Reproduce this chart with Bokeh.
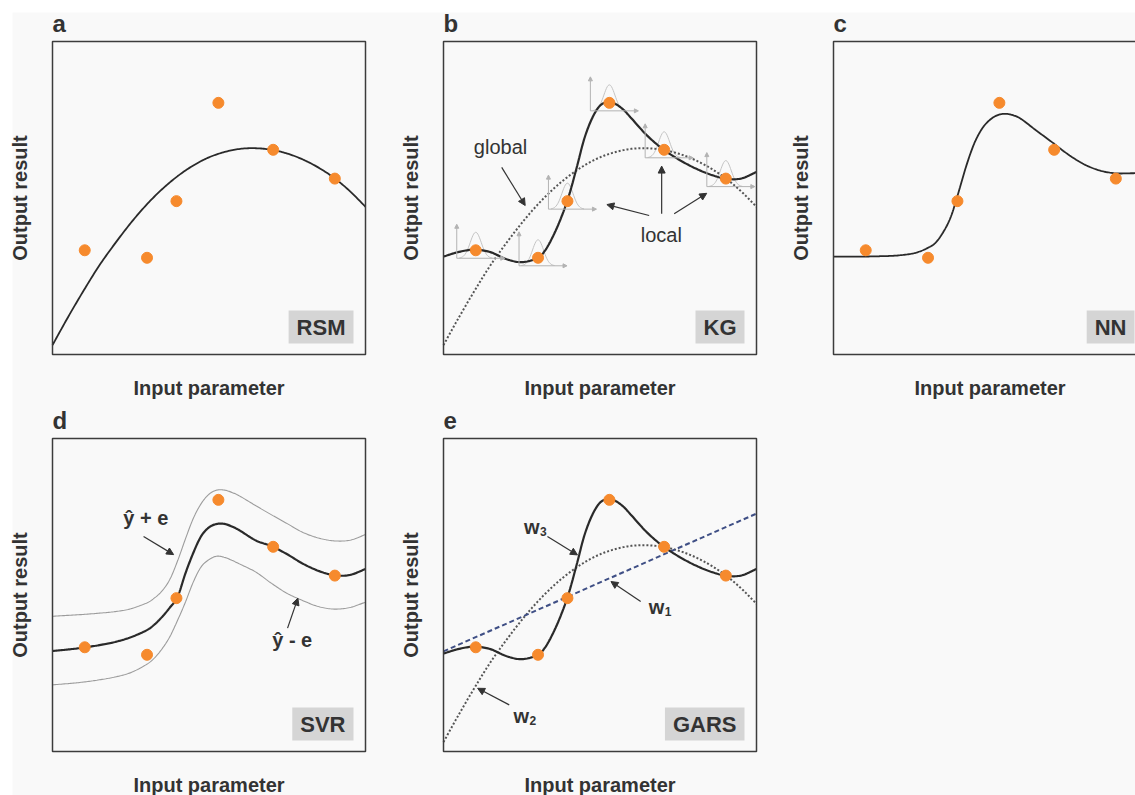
import math
import numpy as np
from bokeh.plotting import figure
from bokeh.models import Range1d, Label, Arrow, NormalHead, BoxAnnotation
from bokeh.embed import file_html
from bokeh.resources import INLINE

# ---------------------------------------------------------------- data
# training samples (input parameter, output result), identical in every panel
sample_x = [1.03, 3.02, 3.96, 5.30, 7.05, 9.02]
sample_y = [3.33, 3.09, 4.90, 8.04, 6.54, 5.62]

# RSM: quadratic response surface (also the global trend of KG / w2 of GARS)
rsm_x = [0, 0.5, 1.0, 1.5, 2.0, 2.5, 3.0, 3.5, 4.0, 4.5, 5.0,
         5.5, 6.0, 6.5, 7.0, 7.5, 8.0, 8.5, 9.0, 9.5, 10.0]
rsm_y = [0.30, 1.20, 2.05, 2.85, 3.55, 4.20, 4.78, 5.28, 5.70, 6.04, 6.30,
         6.47, 6.57, 6.59, 6.54, 6.42, 6.23, 5.97, 5.64, 5.22, 4.72]

# KG: kriging prediction (also w3 of GARS)
kg_x = [0, 0.5, 1.0, 1.5, 2.0, 2.5, 3.0, 3.25, 3.5, 3.75, 4.0, 4.25, 4.5, 4.75,
        5.0, 5.25, 5.5, 5.75, 6.0, 6.5, 7.0, 7.5, 8.0, 8.5, 9.0, 9.5, 10.0]
kg_y = [3.13, 3.28, 3.35, 3.27, 3.05, 2.95, 3.08, 3.33, 3.78, 4.35, 5.05, 5.95, 6.90, 7.55,
        7.95, 8.06, 8.00, 7.82, 7.55, 7.00, 6.57, 6.24, 5.97, 5.76, 5.62, 5.62, 5.83]

# NN: neural network prediction
nn_x = [0, 0.5, 1.0, 1.5, 2.0, 2.5, 2.75, 3.0, 3.25, 3.5, 3.75, 4.0, 4.25, 4.5,
        4.75, 5.0, 5.25, 5.5, 5.75, 6.0, 6.5, 7.0, 7.5, 8.0, 8.5, 9.0, 9.5, 10.0]
nn_y = [3.13, 3.13, 3.13, 3.14, 3.16, 3.22, 3.29, 3.40, 3.56, 3.90, 4.40, 5.20, 6.05, 6.75,
        7.22, 7.50, 7.65, 7.69, 7.64, 7.52, 7.14, 6.77, 6.39, 6.08, 5.88, 5.79, 5.79, 5.80]

# SVR: regression function and its epsilon tube
svr_x = [0, 0.5, 1.0, 1.5, 2.0, 2.5, 3.0, 3.25, 3.5, 3.75, 4.0, 4.25, 4.5, 4.75,
         5.0, 5.25, 5.5, 5.75, 6.0, 6.5, 7.0, 7.5, 8.0, 8.5, 9.0, 9.5, 10.0]
svr_y = [3.21, 3.26, 3.32, 3.40, 3.50, 3.65, 3.87, 4.05, 4.30, 4.60, 4.95, 5.70, 6.35, 6.88,
         7.16, 7.27, 7.27, 7.18, 7.05, 6.74, 6.56, 6.30, 6.00, 5.77, 5.63, 5.64, 5.83]
svr_upper_y = [4.32, 4.35, 4.38, 4.42, 4.47, 4.56, 4.74, 4.90, 5.13, 5.50, 6.10, 6.80, 7.45, 7.92,
               8.22, 8.35, 8.35, 8.27, 8.15, 7.85, 7.56, 7.28, 7.00, 6.82, 6.73, 6.75, 6.93]
svr_lower_y = [2.13, 2.17, 2.22, 2.29, 2.38, 2.52, 2.78, 2.98, 3.28, 3.67, 4.20, 4.78, 5.42, 5.90,
               6.13, 6.24, 6.20, 6.10, 5.98, 5.73, 5.37, 5.05, 4.82, 4.63, 4.55, 4.60, 4.77]

# GARS: linear member w1
linear_x = [0.0, 10.0]
linear_y = [3.20, 7.60]

# ---------------------------------------------------------------- styling
BG = "#f9f9f9"
INK = "#333333"
CURVE = "#2a2a2a"
ORANGE = "#f68a2d"
FONT = "Liberation Sans"
U = 31.3                  # pixels per data unit (313 px box for 0..10)
W, H = 1135, 795          # page size
PAD = 12                  # white strip along the top and left edges

# each panel: (left edge of its box, bottom edge of its box) in canvas pixels
PANELS = {"a": (52, 441), "b": (443, 441), "c": (833, 441),
          "d": (52, 44), "e": (443, 44)}

p = figure(width=W, height=H, x_range=Range1d(0, W), y_range=Range1d(0, H),
           x_axis_type=None, y_axis_type=None, output_backend="svg",
           toolbar_location=None, min_border=0)
p.background_fill_color = "white"
p.border_fill_color = "white"
p.outline_line_color = None
p.add_layout(BoxAnnotation(left=PAD, right=W, bottom=0, top=H - PAD, fill_color=BG,
                           fill_alpha=1, line_color=None, level="underlay"))

xr, yr = {}, {}
for key, (left, bottom) in PANELS.items():
    xr["x" + key] = Range1d(-left / U, (W - left) / U)
    yr["y" + key] = Range1d(-bottom / U, (H - bottom) / U)
p.extra_x_ranges = xr
p.extra_y_ranges = yr


def rn(k):
    return dict(x_range_name="x" + k, y_range_name="y" + k)


def smooth(xs, ys, steps=12):
    """Catmull-Rom path through the knots so the curves render without corners."""
    xs = np.asarray(xs, float)
    ys = np.asarray(ys, float)
    px = np.concatenate([[2 * xs[0] - xs[1]], xs, [2 * xs[-1] - xs[-2]]])
    py = np.concatenate([[2 * ys[0] - ys[1]], ys, [2 * ys[-1] - ys[-2]]])
    t = np.linspace(0.0, 1.0, steps, endpoint=False)
    out_x, out_y = [], []
    for i in range(1, len(px) - 2):
        for arr, out in ((px, out_x), (py, out_y)):
            p0, p1, p2, p3 = arr[i - 1], arr[i], arr[i + 1], arr[i + 2]
            seg = 0.5 * (2 * p1 + (-p0 + p2) * t
                         + (2 * p0 - 5 * p1 + 4 * p2 - p3) * t ** 2
                         + (-p0 + 3 * p1 - 3 * p2 + p3) * t ** 3)
            out.extend(seg.tolist())
    out_x.append(float(xs[-1]))
    out_y.append(float(ys[-1]))
    return out_x, out_y


def note(k, x, y, text, bold=False, size=20, dx=0, dy=0):
    # anchored on the text baseline
    p.add_layout(Label(x=x, y=y, x_offset=dx, y_offset=dy + 0.37 * size, text=text,
                       text_font=FONT, text_font_style="bold" if bold else "normal",
                       text_font_size=f"{size}px", text_color=INK,
                       text_baseline="alphabetic", **rn(k)))


def frame(k, letter, tag):
    p.add_layout(BoxAnnotation(left=0, right=10, bottom=0, top=10, fill_alpha=0,
                               line_color="#3c3c3c", line_alpha=1, line_width=1.5,
                               level="overlay", **rn(k)))
    note(k, 0, 10, letter, bold=True, size=24, dx=0, dy=9)
    p.add_layout(Label(x=5, y=0, y_offset=-33, text="Input parameter",
                       text_font=FONT, text_font_style="bold", text_font_size="20px",
                       text_color=INK, text_align="center", text_baseline="middle", **rn(k)))
    p.add_layout(Label(x=0, y=5, x_offset=-33, angle=math.pi / 2, text="Output result",
                       text_font=FONT, text_font_style="bold", text_font_size="20px",
                       text_color=INK, text_align="center", text_baseline="middle", **rn(k)))
    p.add_layout(Label(x=10, y=0, x_offset=-12, y_offset=11, text=tag,
                       text_font=FONT, text_font_style="bold", text_font_size="22px",
                       text_color=INK, text_align="right", text_baseline="bottom",
                       background_fill_color="#d5d5d5",
                       padding=dict(left=8, right=8, top=4, bottom=4), **rn(k)))


def pointer(k, x0, y0, x1, y1, color=INK, width=1.2, size=7):
    p.add_layout(Arrow(end=NormalHead(size=size, fill_color=color, line_color=color),
                       x_start=x0, y_start=y0, x_end=x1, y_end=y1,
                       line_color=color, line_width=width, **rn(k)))


def samples(k):
    p.scatter(sample_x, sample_y, size=11, color=ORANGE, **rn(k))


def dotted(k, xs, ys):
    sx, sy = smooth(xs, ys)
    p.line(sx, sy, line_color="#555555", line_width=2, line_dash="2 2", **rn(k))


def solid(k, xs, ys, width=2.2, color=CURVE):
    sx, sy = smooth(xs, ys)
    p.line(sx, sy, line_color=color, line_width=width, **rn(k))


# ---------------------------------------------------------------- a: RSM
solid("a", rsm_x, rsm_y, width=1.8)
samples("a")
frame("a", "a", "RSM")

# ---------------------------------------------------------------- b: KG
# small Gaussian kernels sitting on each sample
ax_dx = -19 / U
ax_low = -8 / U
ax_top = 26 / U
ax_right = 29 / U
bell_h = 26 / U
bell_s = 5.5 / U
for sx0, sy0 in zip(sample_x, sample_y):
    pointer("b", sx0 + ax_dx, sy0 + ax_low, sx0 + ax_dx, sy0 + ax_top, color="#b3b3b3", width=1, size=4)
    pointer("b", sx0 + ax_dx, sy0 + ax_low, sx0 + ax_right, sy0 + ax_low, color="#b3b3b3", width=1, size=4)
    bx = np.linspace(sx0 - 3.0 * bell_s, sx0 + 3.0 * bell_s, 40)
    by = sy0 + ax_low + bell_h * np.exp(-0.5 * ((bx - sx0) / bell_s) ** 2)
    p.line(bx, by, line_color="#c4c4c4", line_width=1, **rn("b"))
dotted("b", rsm_x, rsm_y)
solid("b", kg_x, kg_y)
samples("b")
note("b", 0.97, 6.39, "global")
pointer("b", 1.86, 5.98, 2.61, 4.76)
note("b", 6.30, 3.59, "local")
pointer("b", 6.57, 4.44, 5.22, 4.79)
pointer("b", 6.97, 4.50, 6.97, 6.02)
pointer("b", 7.37, 4.50, 8.41, 5.15)
frame("b", "b", "KG")

# ---------------------------------------------------------------- c: NN
solid("c", nn_x, nn_y, width=1.8)
samples("c")
frame("c", "c", "NN")

# ---------------------------------------------------------------- d: SVR
solid("d", svr_x, svr_upper_y, width=1.1, color="#9c9c9c")
solid("d", svr_x, svr_lower_y, width=1.1, color="#9c9c9c")
solid("d", svr_x, svr_y)
samples("d")
note("d", 2.26, 7.22, "ŷ + e", bold=True)
pointer("d", 2.91, 6.87, 3.87, 6.29)
note("d", 7.02, 3.32, "ŷ - e", bold=True)
pointer("d", 7.51, 3.94, 7.84, 4.90)
frame("d", "d", "SVR")

# ---------------------------------------------------------------- e: GARS
dotted("e", rsm_x, rsm_y)
p.line(linear_x, linear_y, line_color="#3f4f85", line_width=2, line_dash="5 3", **rn("e"))
solid("e", kg_x, kg_y)
samples("e")


def weight_label(x, y, digit):
    note("e", x, y, "w", bold=True, size=20)
    note("e", x, y, digit, bold=True, size=12, dx=16, dy=-1.5)


weight_label(2.57, 6.95, "3")
pointer("e", 3.32, 6.87, 4.28, 6.28)
weight_label(6.56, 4.37, "1")
pointer("e", 6.30, 4.79, 5.35, 5.43)
weight_label(2.24, 0.90, "2")
pointer("e", 2.10, 1.49, 1.09, 2.02)
frame("e", "e", "GARS")

open("out.html", "w").write(file_html(p, INLINE, title="Surrogate models"))
